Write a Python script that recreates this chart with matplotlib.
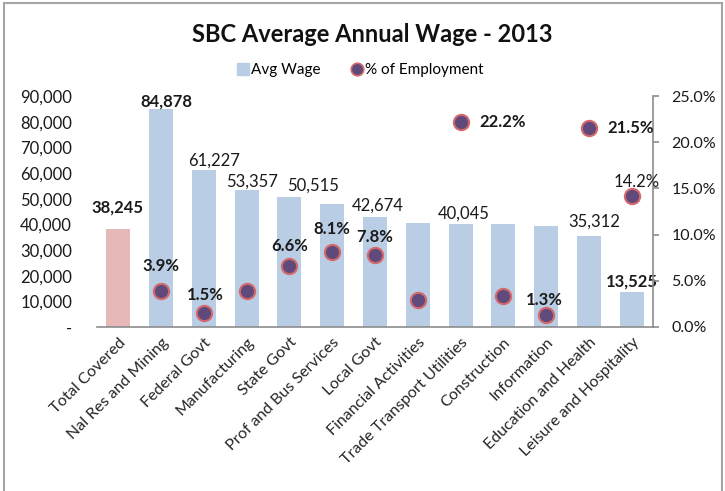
import matplotlib
matplotlib.use("Agg")
import matplotlib.pyplot as plt
from matplotlib.lines import Line2D
from matplotlib.ticker import FuncFormatter
import numpy as np

categories = ["Total Covered", "Nal Res and Mining", "Federal Govt", "Manufacturing",
              "State Govt", "Prof and Bus Services", "Local Govt", "Financial Activities",
              "Trade Transport Utilities", "Construction", "Information",
              "Education and Health", "Leisure and Hospitality"]
avg_wage = [38245, 84878, 61227, 53357, 50515, 47800, 42674, 40550, 40045, 40100, 39300, 35312, 13525]
pct_employment = [np.nan, 3.9, 1.5, 3.9, 6.6, 8.1, 7.8, 2.9, 22.2, 3.4, 1.3, 21.5, 14.2]

wage_labels = {0: "38,245", 1: "84,878", 2: "61,227", 3: "53,357", 4: "50,515",
               6: "42,674", 8: "40,045", 11: "35,312", 12: "13,525"}
pct_labels = {1: "3.9%", 2: "1.5%", 4: "6.6%", 5: "8.1%", 6: "7.8%",
              8: "22.2%", 10: "1.3%", 11: "21.5%", 12: "14.2%"}

# label placement (offset pixels, bold)
wage_style = {0: (-1, 21, True), 1: (5, 8, True), 2: (10, 9, False), 3: (5, 8, False),
              4: (24, 12, False), 6: (3, 12, False), 8: (3, 11, False),
              11: (5, 15, False), 12: (0, 11, True)}
pct_style = {1: (0, 25, True), 2: (1, 18, True), 4: (0, 20, True), 5: (0, 23, True),
             6: (0, 18, True), 8: (42, 0, True), 10: (-2, 15, True),
             11: (42, 0, True), 12: (5, 14, False)}

FONT = ["Lato", "DejaVu Sans"]
plt.rcParams["font.family"] = FONT
TXT = "#1a1a1a"

fig = plt.figure(figsize=(7.25, 4.91), dpi=100)
ax = fig.add_axes([97/725, 1-327/491, (653-97)/725, (327-96)/491])
ax2 = ax.twinx()

x = np.arange(len(categories))
colors = ["#E6B9B8"] + ["#B9CDE5"] * (len(categories) - 1)
ax.bar(x, avg_wage, width=0.56, color=colors, zorder=2)
ax.set_xlim(-0.5, len(categories) - 0.5)
ax.set_ylim(0, 90000)
ax.set_yticks(np.arange(0, 90001, 10000))
ax.yaxis.set_major_formatter(FuncFormatter(lambda v, p: "-" if v == 0 else f"{int(v):,}"))
ax.tick_params(axis="y", length=0, pad=18, labelsize=12, labelcolor=TXT)
ax.set_xticks(x)
ax.set_xticklabels(categories, rotation=45, ha="right", rotation_mode="anchor",
                   fontsize=11.5, color="#262626")
ax.tick_params(axis="x", length=0, pad=6)
for s in ["top", "right", "left"]:
    ax.spines[s].set_visible(False)
ax.spines["bottom"].set_color("#8c8c8c")
ax.spines["bottom"].set_linewidth(1.2)

ax2.plot(x, pct_employment, linestyle="none", marker="o", markersize=11,
         markerfacecolor="#604A7B", markeredgecolor="#D4686A", markeredgewidth=1.5, zorder=3)
ax2.set_ylim(0, 25)
ax2.set_yticks(np.arange(0, 25.1, 5))
ax2.yaxis.set_major_formatter(FuncFormatter(lambda v, p: f"{v:.1f}%"))
ax2.tick_params(axis="y", length=4.3, width=1.2, color="#8c8c8c", pad=9, labelsize=11.5, labelcolor=TXT)
for s in ["top", "left", "bottom"]:
    ax2.spines[s].set_visible(False)
ax2.spines["right"].set_color("#8c8c8c")
ax2.spines["right"].set_linewidth(1.2)

for i, lab in wage_labels.items():
    dx, dy, b = wage_style[i]
    ax.annotate(lab, xy=(x[i], avg_wage[i]), xytext=(dx, dy), textcoords="offset pixels",
                ha="center", va="center", fontsize=12, color=TXT,
                fontweight="bold" if b else "normal", zorder=4)
for i, lab in pct_labels.items():
    dx, dy, b = pct_style[i]
    ax2.annotate(lab, xy=(x[i], pct_employment[i]), xytext=(dx, dy), textcoords="offset pixels",
                 ha="center", va="center", fontsize=12, color=TXT,
                 fontweight="bold" if b else "normal", zorder=4)

fig.text(372/725, 1-35/491, "SBC Average Annual Wage - 2013", ha="center", va="center",
         fontsize=17, fontweight="bold", color="#111111")
handles = [Line2D([], [], linestyle="none", marker="s", markersize=9, color="#B9CDE5"),
           Line2D([], [], linestyle="none", marker="o", markersize=9,
                  markerfacecolor="#604A7B", markeredgecolor="#D4686A", markeredgewidth=1.2)]
fig.legend(handles, ["Avg Wage", "% of Employment"], loc="center", bbox_to_anchor=(360/725, 1-70/491),
           ncol=2, frameon=False, fontsize=11, handletextpad=0.1, columnspacing=2.0,
           handlelength=0.8)

# chart border
border = dict(color="#a6a6a6", linewidth=1.5, transform=fig.transFigure)
fig.add_artist(Line2D([4/725, 4/725], [0, 1-3/491], **border))
fig.add_artist(Line2D([4/725, 722/725], [1-3/491, 1-3/491], **border))
fig.add_artist(Line2D([722/725, 722/725], [0, 1-3/491], **border))

fig.savefig("out.png", dpi=100)
